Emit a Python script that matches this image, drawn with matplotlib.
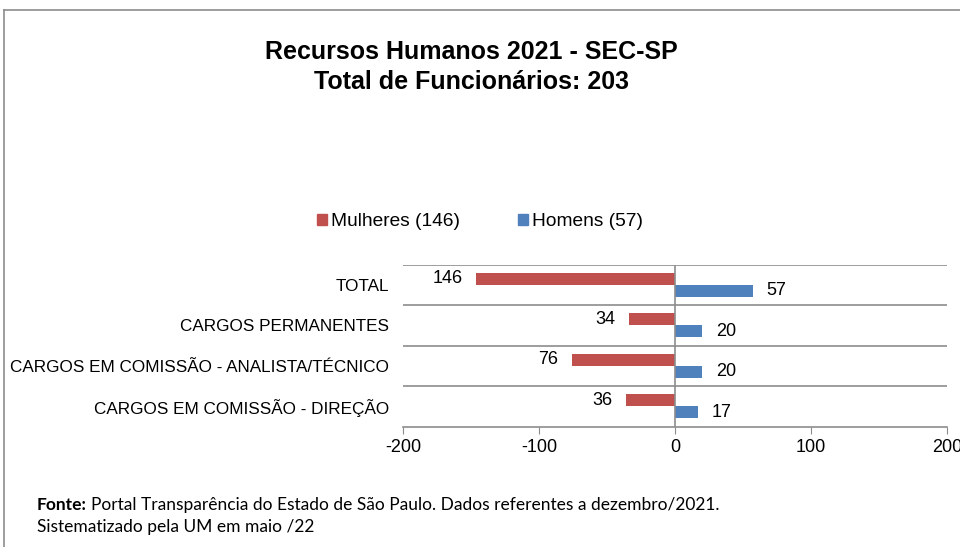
import matplotlib
matplotlib.use("Agg")
import matplotlib.pyplot as plt
from matplotlib.patches import Patch
from matplotlib.lines import Line2D
import numpy as np

# data
categories = ["TOTAL", "CARGOS PERMANENTES",
              "CARGOS EM COMISSÃO - ANALISTA/TÉCNICO",
              "CARGOS EM COMISSÃO - DIREÇÃO"]
mulheres = [146, 34, 76, 36]
homens = [57, 20, 20, 17]
xticks = [-200, -100, 0, 100, 200]

RED = "#C0504D"
BLUE = "#4F81BD"
GRID = "#8C8C8C"

plt.rcParams["font.family"] = ["Liberation Sans", "DejaVu Sans"]

fig = plt.figure(figsize=(9.6, 5.47), dpi=100)
W, H = 960, 547

# outer frame (only top and left visible)
fig.add_artist(Line2D([4 / W, 1.0], [1 - 10 / H, 1 - 10 / H], color=GRID, lw=1.2, transform=fig.transFigure))
fig.add_artist(Line2D([4 / W, 4 / W], [0, 1 - 10 / H], color=GRID, lw=1.2, transform=fig.transFigure))

ax = fig.add_axes([403 / W, 1 - 426.5 / H, 544 / W, 162 / H])

y = np.arange(len(categories))
bh = 0.3
neg = -np.array(mulheres)
ax.barh(y - bh / 2, neg, height=bh, color=RED)
ax.barh(y + bh / 2, homens, height=bh, color=BLUE)

for yi, v in zip(y, mulheres):
    ax.annotate(str(v), (-v, yi - bh / 2), xytext=(-9.5, 0), textcoords="offset points",
                ha="right", va="center", fontsize=13)
for yi, v in zip(y, homens):
    ax.annotate(str(v), (v, yi + bh / 2), xytext=(10, 0), textcoords="offset points",
                ha="left", va="center", fontsize=13)

ax.set_xlim(-200, 200)
ax.set_ylim(len(categories) - 0.5, -0.5)
ax.set_xticks(xticks)
ax.set_xticklabels([str(t) for t in xticks], fontsize=13)
ax.set_yticks(y)
ax.set_yticklabels(categories, fontsize=12.3)
ax.tick_params(axis="y", length=0, pad=10)
ax.tick_params(axis="x", length=5, color=GRID, pad=4)

for b in np.arange(-0.5, len(categories) - 0.5, 1.0):
    ax.axhline(b, color=GRID, lw=1.2, zorder=0)
ax.axvline(0, color=GRID, lw=1.2, zorder=3)
for s in ["left", "right", "top"]:
    ax.spines[s].set_visible(False)
ax.spines["bottom"].set_color(GRID)
ax.spines["bottom"].set_linewidth(1.2)

fig.text(471 / W, 1 - 52 / H, "Recursos Humanos 2021 - SEC-SP", ha="center", va="center",
         fontsize=18, fontweight="bold")
fig.text(471 / W, 1 - 82 / H, "Total de Funcionários: 203", ha="center", va="center",
         fontsize=18, fontweight="bold")

handles = [Patch(color=RED), Patch(color=BLUE)]
fig.legend(handles, [f"Mulheres ({mulheres[0]})", f"Homens ({homens[0]})"],
           loc="center", bbox_to_anchor=(0.5, 1 - 222 / H), ncol=2, frameon=False,
           fontsize=13.8, handlelength=0.55, handleheight=0.55, handletextpad=0.2,
           columnspacing=3.0)

# footer with bold "Fonte:"
foot = ["Lato", "DejaVu Sans"]
t1 = fig.text(37 / W, 1 - 505 / H, "Fonte:", fontsize=12.5, fontweight="bold", family=foot, va="center")
fig.canvas.draw()
bb = t1.get_window_extent()
fig.text(bb.x1 / W + 4 / W, 1 - 505 / H,
         "Portal Transparência do Estado de São Paulo. Dados referentes a dezembro/2021.",
         fontsize=12.5, family=foot, va="center")
fig.text(37 / W, 1 - 527 / H, "Sistematizado pela UM em maio /22", fontsize=12.5, family=foot, va="center")

fig.savefig("out.png", dpi=100)
